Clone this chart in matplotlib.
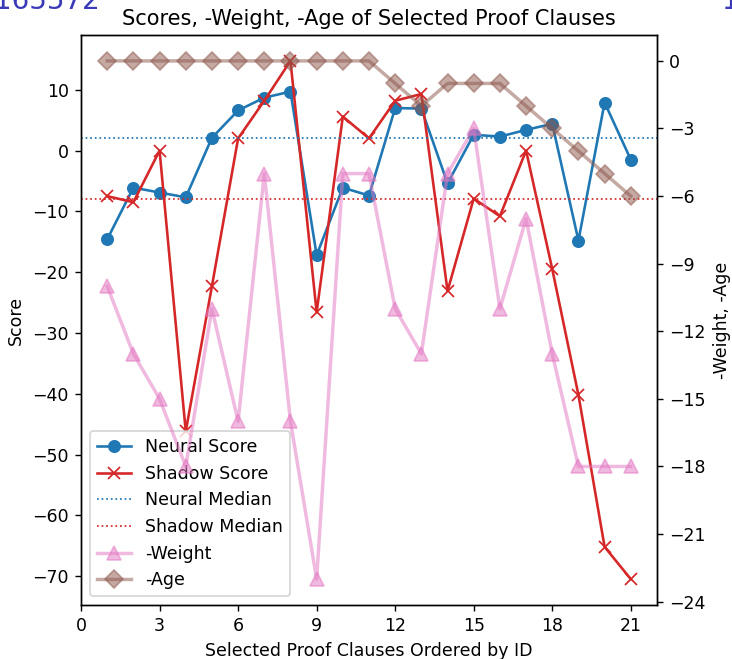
import numpy as np
import matplotlib
matplotlib.use('Agg')
import matplotlib.pyplot as plt
from matplotlib.ticker import MultipleLocator

# clause ids (x axis)
clause_ids = list(range(1, 22))

# scores
neural_score = [-14.6, -6.1, -6.9, -7.7, 2.1, 6.6, 8.7, 9.7, -17.2, -6.1, -7.4,
                7.0, 6.9, -5.4, 2.6, 2.3, 3.4, 4.4, -14.8, 7.9, -1.5]
shadow_score = [-7.5, -8.5, 0.0, -46.2, -22.3, 2.0, 8.2, 14.75, -26.6, 5.6, 2.0,
                8.2, 9.3, -23.1, -7.9, -10.8, 0.0, -19.5, -40.2, -65.2, -70.5]

# negated weight and age (right axis)
neg_weight = [-10, -13, -15, -18, -11, -16, -5, -16, -23, -5, -5,
              -11, -13, -5, -3, -11, -7, -13, -18, -18, -18]
neg_age = [0, 0, 0, 0, 0, 0, 0, 0, 0, 0, 0,
           -1, -2, -1, -1, -1, -2, -3, -4, -5, -6]

fig = plt.figure(figsize=(5.856, 5.272), dpi=125)
ax = fig.add_axes([0.1107, 0.0819, 0.7868, 0.865])
ax2 = ax.twinx()

l1, = ax.plot(clause_ids, neural_score, 'o-', color='tab:blue', markersize=6.5, label='Neural Score')
l2, = ax.plot(clause_ids, shadow_score, 'x-', color='tab:red', markersize=7, label='Shadow Score')
l3 = ax.axhline(np.median(neural_score), color='tab:blue', linestyle=':', linewidth=1, label='Neural Median')
l4 = ax.axhline(np.median(shadow_score), color='tab:red', linestyle=':', linewidth=1, label='Shadow Median')

l5, = ax2.plot(clause_ids, neg_weight, '^-', color='tab:pink', alpha=0.5, linewidth=2, markersize=7.5, label='-Weight')
l6, = ax2.plot(clause_ids, neg_age, 'D-', color='tab:brown', alpha=0.5, linewidth=2, markersize=7, label='-Age')

ax.set_xlim(0, 22)
ax.xaxis.set_major_locator(MultipleLocator(3))
ax.yaxis.set_major_locator(MultipleLocator(10))
ax2.yaxis.set_major_locator(MultipleLocator(3))

ax.set_title('Scores, -Weight, -Age of Selected Proof Clauses')
ax.set_xlabel('Selected Proof Clauses Ordered by ID')
ax.set_ylabel('Score')
ax2.set_ylabel('-Weight, -Age')

# legend sits on the left axes, so the right-axis lines draw over it
ax.legend([l1, l2, l3, l4, l5, l6],
          ['Neural Score', 'Shadow Score', 'Neural Median', 'Shadow Median', '-Weight', '-Age'],
          loc='lower left')

# cut-off labels at the top edge of the figure
fig.text(-0.008, 0.986, '165572', fontsize=16, color='#3a3ab8', va='baseline')
fig.text(0.986, 0.986, '15', fontsize=16, color='#3a3ab8', va='baseline')

fig.savefig('out.png', dpi=125)
